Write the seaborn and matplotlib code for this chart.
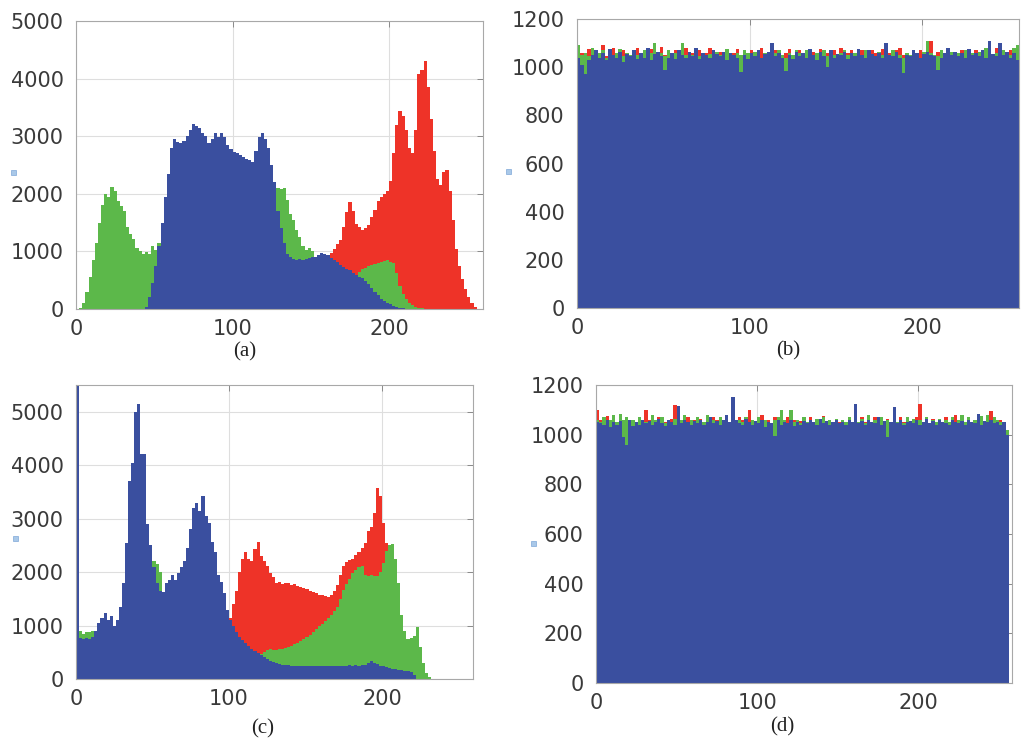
import numpy as np
import pandas as pd
import matplotlib
matplotlib.use("Agg")
import matplotlib.pyplot as plt
from matplotlib.patches import Rectangle
import seaborn as sns

# ---------------- data (counts per 2-level bin, bins 0-2, 2-4, ..., 254-256) ----------------
bin_centers = np.arange(1, 256, 2)

# (a) original image histogram
red_a = [0]*64 + [
    0, 0, 0, 0, 0, 0, 100, 200, 300, 400, 500, 600, 700, 780, 850, 900,
    940, 980, 1050, 1120, 1200, 1420, 1680, 1850, 1700, 1480, 1420, 1380, 1400, 1450, 1600, 1720,
    1880, 1950, 2000, 2050, 2230, 2700, 3200, 3440, 3350, 3100, 2800, 2700, 3100, 4080, 4150, 4300,
    3850, 3300, 2750, 2250, 2150, 2380, 2420, 2050, 1550, 1050, 750, 520, 340, 210, 100, 30]
green_a = [
    0, 20, 100, 300, 550, 850, 1150, 1500, 1800, 2000, 1950, 2120, 2050, 1880, 1780, 1700,
    1420, 1300, 1220, 1060, 1000, 950, 990, 960, 1100, 1020, 1150, 1200, 1250, 1300, 1350, 1400,
    1450, 1500, 1550, 1600, 1650, 1700, 1750, 1800, 1800, 1850, 1850, 1900, 1900, 1950, 1950, 2000,
    2000, 2000, 2050, 2050, 2050, 2100, 2100, 2100, 2100, 2100, 2100, 2100, 2100, 2100, 2050, 2050,
    2100, 2080, 2100, 1900, 1650, 1550, 1380, 1250, 1100, 1020, 1060, 1000, 900, 840, 820, 800,
    780, 760, 740, 720, 700, 680, 660, 640, 610, 580, 650, 690, 710, 740, 770, 780,
    790, 810, 830, 850, 820, 790, 620, 400, 260, 170, 110, 70, 40, 20, 10, 0] + [0]*16
blue_a = [0]*16 + [
    0, 0, 0, 0, 0, 0, 30, 200, 450, 750, 1100, 1500, 1950, 2350, 2800, 2950,
    2900, 2880, 2920, 3000, 3100, 3220, 3180, 3150, 3050, 3000, 2880, 2950, 3050, 2980, 3060, 2980,
    2850, 2780, 2720, 2700, 2680, 2640, 2600, 2580, 2560, 2750, 2980, 3050, 2960, 2800, 2500, 2200,
    1700, 1400, 1150, 950, 900, 870, 850, 860, 850, 870, 880, 900, 910, 940, 980, 960,
    930, 890, 850, 810, 770, 730, 700, 670, 630, 590, 560, 530, 480, 430, 360, 300,
    240, 180, 140, 110, 80, 60, 40, 25, 10, 0, 0, 0, 0, 0, 0, 0] + [0]*16

# (b) encrypted image histogram
red_b = [
    1080, 1060, 1050, 1075, 1040, 1060, 1050, 1090, 1045, 1060, 1080, 1050, 1040, 1070, 1060, 1050,
    1045, 1080, 1050, 1060, 1040, 1075, 1050, 1045, 1085, 1050, 1060, 1040, 1070, 1050, 1055, 1080,
    1050, 1060, 1045, 1070, 1050, 1060, 1080, 1050, 1045, 1065, 1050, 1070, 1040, 1060, 1075, 1050,
    1060, 1045, 1070, 1050, 1060, 1080, 1045, 1055, 1060, 1070, 1050, 1040, 1060, 1075, 1050, 1045,
    1070, 1050, 1060, 1040, 1065, 1050, 1075, 1040, 1060, 1050, 1070, 1045, 1080, 1050, 1060, 1070,
    1050, 1040, 1070, 1060, 1045, 1070, 1060, 1050, 1075, 1050, 1060, 1045, 1070, 1080, 1050, 1060,
    1050, 1060, 1045, 1070, 1050, 1060, 1110, 1050, 1065, 1060, 1050, 1070, 1045, 1060, 1050, 1070,
    1060, 1050, 1045, 1070, 1060, 1050, 1040, 1060, 1050, 1080, 1060, 1050, 1045, 1070, 1050, 1040]
green_b = [
    1090, 1050, 1060, 1045, 1080, 1050, 1060, 1070, 1040, 1055, 1050, 1060, 1075, 1045, 1060, 1050,
    1060, 1050, 1045, 1070, 1050, 1060, 1100, 1050, 1060, 1045, 1070, 1050, 1060, 1040, 1100, 1050,
    1060, 1050, 1070, 1045, 1060, 1050, 1055, 1040, 1065, 1050, 1060, 1075, 1050, 1040, 1060, 1050,
    1070, 1060, 1045, 1065, 1050, 1040, 1060, 1050, 1045, 1060, 1070, 1050, 1040, 1060, 1050, 1070,
    1060, 1045, 1070, 1050, 1040, 1060, 1050, 1070, 1045, 1060, 1050, 1040, 1060, 1070, 1050, 1045,
    1060, 1050, 1045, 1070, 1060, 1050, 1040, 1065, 1050, 1060, 1045, 1070, 1060, 1050, 1040, 1060,
    1050, 1070, 1060, 1040, 1065, 1110, 1060, 1050, 1045, 1070, 1060, 1050, 1065, 1045, 1060, 1050,
    1070, 1050, 1060, 1045, 1065, 1050, 1080, 1060, 1045, 1060, 1050, 1070, 1060, 1050, 1080, 1090]
blue_b = [
    1040, 1010, 970, 1030, 1050, 1070, 1040, 1060, 1030, 1075, 1050, 1040, 1065, 1020, 1055, 1045,
    1070, 1035, 1060, 1040, 1080, 1030, 1055, 1065, 1045, 990, 1040, 1060, 1035, 1070, 1050, 1040,
    1065, 1045, 1080, 1035, 1060, 1050, 1040, 1070, 1055, 1045, 1065, 1030, 1060, 1050, 1040, 980,
    1050, 1035, 1060, 1045, 1070, 1040, 1055, 1065, 1100, 1045, 1060, 1040, 985, 1050, 1035, 1065,
    1045, 1060, 1040, 1075, 1050, 1030, 1065, 1045, 1000, 1070, 1040, 1055, 1050, 1065, 1035, 1060,
    1045, 1075, 1050, 1040, 1070, 1055, 1045, 1060, 1040, 1100, 1050, 1045, 1065, 1040, 975, 1050,
    1045, 1070, 1060, 1040, 1055, 1065, 1050, 1045, 990, 1040, 1060, 1080, 1050, 1065, 1045, 1060,
    1040, 1075, 1050, 1060, 1045, 1070, 1040, 1110, 1055, 1045, 1100, 1050, 1065, 1040, 1060, 1030]

# (c) second image histogram
red_c = [0]*46 + [200, 400] + [
    600, 900, 1150, 1400, 1650, 2000, 2250, 2370, 2250, 2200, 2430, 2560, 2300, 2200, 2120, 1990,
    1900, 1800, 1820, 1780, 1800, 1790, 1760, 1780, 1740, 1720, 1700, 1680, 1640, 1620, 1600, 1580,
    1570, 1550, 1540, 1570, 1650, 1760, 1950, 2110, 2180, 2230, 2250, 2320, 2380, 2450, 2550, 2760,
    2850, 3100, 3570, 3420, 2920, 2550, 2300, 1900, 1500, 1000, 700, 500, 350, 200, 100, 50] + [0]*16
green_c = [
    950, 900, 850, 870, 880, 900, 900, 900, 900, 900, 900, 900, 950, 1000, 1100, 1200,
    1300, 1400, 1500, 1600, 1700, 1800, 1900, 2000, 2100, 2200, 2150, 2000, 1600, 1500, 1500, 1500,
    1500, 1450, 1400, 1350, 1300, 1250, 1200, 1150, 1100, 1000, 950, 900, 850, 800, 750, 700,
    650, 600, 560, 530, 500, 480, 460, 440, 430, 420, 430, 440, 460, 500, 540, 560,
    540, 550, 560, 570, 580, 600, 620, 650, 680, 710, 740, 780, 830, 880, 930, 985,
    1030, 1080, 1140, 1200, 1270, 1350, 1500, 1670, 1780, 1880, 1980, 2030, 2100, 2110, 1950, 1920,
    1950, 1930, 1920, 2000, 2170, 2400, 2500, 2530, 2250, 1800, 1200, 900, 740, 760, 800, 980,
    600, 300, 120, 30] + [0]*12
blue_c = [
    6000, 760, 750, 760, 740, 780, 900, 1050, 1140, 1230, 1110, 1170, 1000, 1100, 1350, 1800,
    2550, 3700, 4050, 5000, 5150, 4200, 4200, 2900, 2500, 2100, 1800, 1650, 1620, 1800, 1860, 1950,
    1860, 1980, 2100, 2200, 2450, 2800, 3200, 3300, 3150, 3420, 3050, 2920, 2560, 2380, 1950, 1820,
    1600, 1300, 1100, 1000, 880, 790, 730, 670, 610, 560, 520, 480, 440, 410, 380, 340,
    320, 300, 280, 270, 260, 260, 250, 250, 240, 240, 250, 240, 240, 250, 250, 240,
    250, 240, 250, 240, 250, 250, 240, 250, 250, 260, 250, 260, 250, 260, 270, 300,
    330, 300, 280, 250, 240, 220, 210, 190, 180, 170, 160, 150, 150, 130, 80, 0] + [0]*16

# (d) encrypted second image histogram
red_d = [
    1100, 1060, 1050, 1075, 1040, 1070, 1050, 1060, 1045, 1065, 1050, 1060, 1040, 1070, 1050, 1100,
    1060, 1050, 1045, 1070, 1060, 1050, 1040, 1065, 1120, 1050, 1060, 1045, 1070, 1050, 1060, 1045,
    1065, 1050, 1060, 1045, 1070, 1060, 1050, 1045, 1060, 1050, 1060, 1045, 1070, 1060, 1050, 1100,
    1060, 1050, 1045, 1080, 1050, 1060, 1040, 1070, 1050, 1060, 1045, 1070, 1050, 1060, 1045, 1055,
    1060, 1045, 1070, 1050, 1060, 1040, 1075, 1050, 1060, 1045, 1065, 1050, 1060, 1040, 1070, 1050,
    1060, 1045, 1070, 1050, 1060, 1045, 1070, 1050, 1060, 1045, 1065, 1050, 1060, 1045, 1070, 1050,
    1060, 1050, 1045, 1070, 1125, 1050, 1060, 1045, 1065, 1050, 1060, 1045, 1070, 1050, 1060, 1080,
    1050, 1060, 1045, 1070, 1050, 1060, 1045, 1060, 1050, 1060, 1095, 1070, 1050, 1060, 1040, 1020]
green_d = [
    1060, 1050, 1070, 1045, 1060, 1080, 1050, 1085, 1060, 1070, 1050, 1060, 1045, 1070, 1060, 1050,
    1045, 1080, 1060, 1050, 1070, 1045, 1060, 1050, 1065, 1045, 1060, 1080, 1050, 1060, 1045, 1070,
    1060, 1050, 1080, 1045, 1060, 1050, 1070, 1045, 1060, 1050, 1065, 1045, 1060, 1050, 1070, 1045,
    1060, 1050, 1070, 1045, 1060, 1050, 1045, 1060, 1070, 1100, 1060, 1045, 1100, 1050, 1060, 1045,
    1070, 1050, 1060, 1045, 1065, 1050, 1070, 1045, 1060, 1050, 1065, 1045, 1060, 1050, 1070, 1045,
    1060, 1050, 1065, 1045, 1080, 1050, 1060, 1045, 1070, 1050, 1060, 1045, 1065, 1050, 1060, 1045,
    1070, 1050, 1065, 1045, 1060, 1050, 1070, 1045, 1060, 1050, 1065, 1045, 1060, 1050, 1070, 1045,
    1060, 1080, 1050, 1070, 1045, 1060, 1050, 1075, 1045, 1080, 1050, 1070, 1060, 1050, 1045, 1020]
blue_d = [
    1050, 1045, 1040, 1060, 1030, 1050, 1040, 1055, 990, 960, 1060, 1035, 1050, 1040, 1060, 1045,
    1055, 1040, 1050, 1065, 1045, 1035, 1060, 1050, 1040, 1115, 1045, 1060, 1050, 1040, 1055, 1045,
    1060, 1040, 1050, 1070, 1045, 1055, 1040, 1060, 1080, 1050, 1150, 1060, 1045, 1040, 1065, 1050,
    1040, 1055, 1045, 1060, 1030, 1050, 1045, 995, 1060, 1040, 1050, 1045, 1060, 1035, 1050, 1040,
    1055, 1045, 1060, 1050, 1040, 1065, 1045, 1055, 1040, 1050, 1060, 1045, 1050, 1040, 1060, 1050,
    1125, 1045, 1055, 1040, 1060, 1050, 1045, 1070, 1040, 1055, 990, 1050, 1110, 1045, 1060, 1040,
    1050, 1055, 1045, 1060, 1040, 1050, 1065, 1045, 1055, 1040, 1060, 1050, 1045, 1040, 1060, 1050,
    1045, 1055, 1040, 1060, 1050, 1045, 1085, 1040, 1055, 1050, 1060, 1045, 1050, 1040, 1050, 1000]

panel_labels = ["(a)", "(b)", "(c)", "(d)"]
x_ticks = [0, 100, 200]
y_ticks_big = [0, 1000, 2000, 3000, 4000, 5000]
y_ticks_flat = [0, 200, 400, 600, 800, 1000, 1200]

# ---------------- styling ----------------
sns.set_style("white")
plt.rcParams["font.family"] = ["DejaVu Sans"]

RED = "#ee3328"
GREEN = "#5cb84a"
BLUE = "#3a4f9f"
W, H = 1021, 743

fig = plt.figure(figsize=(W / 100, H / 100), dpi=100)


def px_axes(left, top, right, bottom):
    return fig.add_axes([left / W, 1 - bottom / H, (right - left) / W, (bottom - top) / H])


panels = [
    dict(box=(76, 21, 483, 309), data=(red_a, green_a, blue_a), xlim=260, ylim=5000, yt=y_ticks_big,
         lab=(245, 352)),
    dict(box=(577, 19, 1019, 308), data=(red_b, green_b, blue_b), xlim=256, ylim=1200, yt=y_ticks_flat,
         lab=(788, 351)),
    dict(box=(76, 385, 473, 679), data=(red_c, green_c, blue_c), xlim=259.5, ylim=5500, yt=y_ticks_big,
         lab=(263, 729)),
    dict(box=(596, 385, 1012, 683), data=(red_d, green_d, blue_d), xlim=258, ylim=1200, yt=y_ticks_flat,
         lab=(782, 727)),
]

for p, lab in zip(panels, panel_labels):
    ax = px_axes(*p["box"])
    for vals, col in zip(p["data"], (RED, GREEN, BLUE)):
        df = pd.DataFrame({"level": bin_centers, "count": np.asarray(vals, dtype=float)})
        sns.histplot(data=df, x="level", weights="count", binwidth=2, binrange=(0, 256),
                     element="step", fill=True, color=col, alpha=1, linewidth=0, ax=ax)
    ax.set_xlim(0, p["xlim"])
    ax.set_ylim(0, p["ylim"])
    ax.set_xticks(x_ticks)
    ax.set_yticks(p["yt"])
    ax.set_xlabel("")
    ax.set_ylabel("")
    ax.set_axisbelow(True)
    ax.grid(True, color="#dedede", linewidth=0.8)
    ax.tick_params(direction="in", length=4, width=0.7, color="#8a8a8a", top=True, right=True,
                   labelsize=15, labelcolor="#3a3a3a")
    ax.tick_params(axis="y", pad=9)
    ax.tick_params(axis="x", pad=7)
    for s in ax.spines.values():
        s.set_color("#a8a8a8")
        s.set_linewidth(0.8)
    fig.text(p["lab"][0] / W, 1 - p["lab"][1] / H, lab, ha="center", va="center",
             fontsize=15, family=["Liberation Serif", "DejaVu Serif"], color="#222222")

# tiny light-blue marks left of each panel (scan artefacts of empty y-labels)
for (cx, cy) in [(13, 172), (508, 171), (15, 538), (533, 543)]:
    fig.add_artist(Rectangle(((cx - 2.5) / W, 1 - (cy + 2.5) / H), 5 / W, 5 / H,
                             transform=fig.transFigure, facecolor="#a9c8e8", edgecolor="#7fa8d8",
                             linewidth=0.5))

fig.savefig("out.png", dpi=100)
